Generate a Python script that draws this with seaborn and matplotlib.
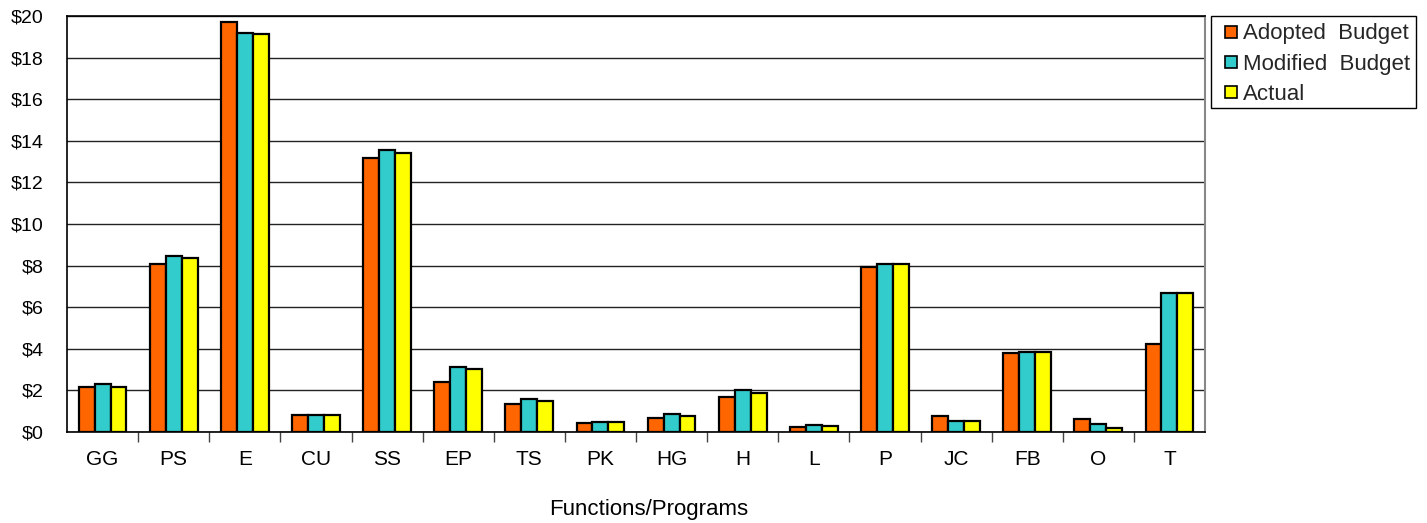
import matplotlib
matplotlib.use("Agg")
import matplotlib.pyplot as plt
import seaborn as sns
import pandas as pd
from matplotlib.patches import Rectangle
from matplotlib.ticker import MultipleLocator, FuncFormatter

categories = ["GG", "PS", "E", "CU", "SS", "EP", "TS", "PK", "HG", "H", "L", "P", "JC", "FB", "O", "T"]
adopted = [2.14, 8.08, 19.69, 0.83, 13.15, 2.42, 1.36, 0.41, 0.67, 1.66, 0.25, 7.95, 0.75, 3.80, 0.62, 4.23]
modified = [2.31, 8.44, 19.20, 0.83, 13.54, 3.12, 1.57, 0.50, 0.85, 2.03, 0.32, 8.06, 0.54, 3.87, 0.38, 6.68]
actual = [2.14, 8.38, 19.13, 0.80, 13.43, 3.01, 1.49, 0.48, 0.77, 1.86, 0.30, 8.06, 0.53, 3.84, 0.17, 6.68]
series_names = ["Adopted  Budget", "Modified  Budget", "Actual"]
series_colors = ["#FF6600", "#33CCCC", "#FFFF00"]

df = pd.DataFrame({
    "Function": categories * 3,
    "Series": [series_names[0]] * len(categories)
              + [series_names[1]] * len(categories)
              + [series_names[2]] * len(categories),
    "Amount": adopted + modified + actual,
})

sns.set_theme(style="white")
plt.rcParams["font.family"] = ["Liberation Sans", "DejaVu Sans"]

W, H = 1427, 523
fig = plt.figure(figsize=(W / 100, H / 100), dpi=100)
ax = fig.add_axes([67 / W, 1 - 432 / H, (1205 - 67) / W, (432 - 16) / H])

sns.barplot(
    data=df, x="Function", y="Amount", hue="Series",
    order=categories, hue_order=series_names,
    palette=series_colors, width=0.67, gap=0,
    edgecolor="black", linewidth=1.6, saturation=1, ax=ax, zorder=3,
)

ax.set_xlim(-0.5, len(categories) - 0.5)
ax.set_ylim(0, 20)
ax.yaxis.set_major_locator(MultipleLocator(2))
ax.yaxis.set_major_formatter(FuncFormatter(lambda v, _: f"${v:.0f}"))
ax.grid(axis="y", color="#222222", linewidth=1.0, zorder=0)
ax.grid(axis="x", visible=False)
ax.set_axisbelow(True)

# category ticks sit on the boundaries between groups
ax.set_xticks([i + 0.5 for i in range(len(categories) - 1)], minor=True)
ax.tick_params(axis="x", which="minor", direction="out", length=7, width=1, color="#444444", bottom=True)
ax.tick_params(axis="x", which="major", length=0, labelsize=15, pad=13, colors="black")
ax.tick_params(axis="y", length=0, labelsize=14, pad=17, colors="black")

for side in ["left", "bottom", "top"]:
    ax.spines[side].set_color("black")
    ax.spines[side].set_linewidth(1.2)
ax.spines["right"].set_color("#888888")
ax.spines["right"].set_linewidth(1.5)

ax.set_ylabel("")
ax.set_xlabel("Functions/Programs", fontsize=16, color="black")
ax.xaxis.set_label_coords(0.511, -0.162)

# legend: boxed key to the right of the plot
ax.get_legend().remove()
fig.patches.append(Rectangle(
    (1211 / W, 1 - 108 / H), (1416 - 1211) / W, (108 - 16) / H,
    transform=fig.transFigure, facecolor="white", edgecolor="black", linewidth=1.0, zorder=1,
))
handles = [Rectangle((0, 0), 1, 1, facecolor=c, edgecolor="black", linewidth=1.2) for c in series_colors]
leg = fig.legend(
    handles, series_names, loc="upper left",
    bbox_to_anchor=(1225 / W, 1 - 23.5 / H),
    fontsize=16, frameon=False,
    handlelength=0.55, handleheight=0.45, handletextpad=0.27,
    borderpad=0, labelspacing=0.41, borderaxespad=0,
)
leg.set_zorder(2)

fig.savefig("out.png", dpi=100)
